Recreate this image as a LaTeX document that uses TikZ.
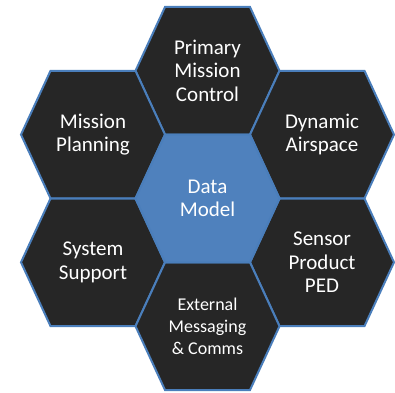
\documentclass[tikz,border=0pt]{standalone}
\usepackage{fontspec}
\setmainfont{Carlito}
\definecolor{hexdark}{HTML}{262626}
\definecolor{hexblue}{HTML}{4F81BD}
\definecolor{hexedge}{HTML}{4A7EBB}
\tikzset{
  pics/hexa/.style={code={
    \path[pic actions] (-72,0) -- (-42.5,63.8) -- (42.5,63.8) -- (72,0)
      -- (42.5,-63.8) -- (-42.5,-63.8) -- cycle;}},
  cell/.style={draw=hexedge, line width=2pt, fill=hexdark},
  core/.style={draw=hexedge, line width=2pt, fill=hexblue},
  label/.style={text=white, align=center, font=\fontsize{21}{23.5}\selectfont},
  smalllabel/.style={text=white, align=center, font=\fontsize{18}{21.7}\selectfont},
}
\begin{document}
\begin{tikzpicture}[x=1pt,y=1pt]
\useasboundingbox (0,0) rectangle (395,392);
% outer ring of cells
\pic[cell] at (207.5,321.2) {hexa};
\pic[cell] at (93,257.4) {hexa};
\pic[cell] at (322,257.4) {hexa};
\pic[cell] at (93,129.7) {hexa};
\pic[cell] at (322,129.7) {hexa};
\pic[cell] at (207.5,65.8) {hexa};
% central cell
\pic[core] at (207.5,193.5) {hexa};
% texts
\node[label] (pmc) at (207.5,321.2) {Primary\\Mission\\Control};
\node[label] (mp) at (93,257.4) {Mission\\Planning};
\node[label] (da) at (322,257.4) {Dynamic\\Airspace};
\node[label] (dm) at (207.5,193.5) {Data\\Model};
\node[label] (ss) at (93,129.7) {System\\Support};
\node[label] (sp) at (322,129.7) {Sensor\\Product\\PED};
\node[smalllabel] (em) at (207.5,65.8) {External\\Messaging\\\& Comms};
\end{tikzpicture}
\end{document}
